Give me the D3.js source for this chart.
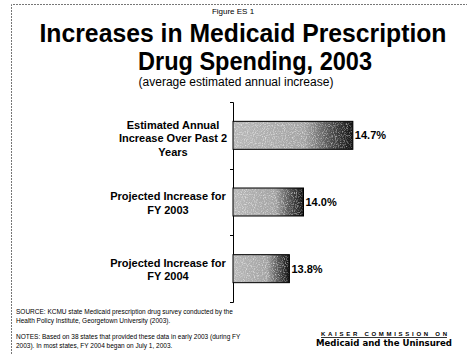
<!DOCTYPE html>
<html>
<head>
<meta charset="utf-8">
<script src="https://cdn.jsdelivr.net/npm/d3@7"></script>
<style>
  html, body { margin: 0; padding: 0; background: #fff; }
  svg { display: block; }
  text { font-family: "Liberation Sans", Arial, Helvetica, sans-serif; fill: #000; }
</style>
</head>
<body>
<svg id="chart" width="467" height="354"></svg>
<script>
// ---- data ----
const categories = [
  "Estimated Annual Increase Over Past 2 Years",
  "Projected Increase for FY 2003",
  "Projected Increase for FY 2004"
];
const categoryLines = [
  ["Estimated Annual", "Increase Over Past 2", "Years"],
  ["Projected Increase for", "FY 2003"],
  ["Projected Increase for", "FY 2004"]
];
const values = [14.7, 14.0, 13.8];
const valueLabels = ["14.7%", "14.0%", "13.8%"];
const axisMin = 13;
const axisMax = 16;

const figureLabel = "Figure ES 1";
const titleLines = ["Increases in Medicaid Prescription", "Drug Spending, 2003"];
const subtitle = "(average estimated annual increase)";
const sourceLines = [
  "SOURCE: KCMU state Medicaid prescription drug survey conducted by the",
  "Health Policy Institute, Georgetown University (2003)."
];
const noteLines = [
  "NOTES: Based on 38 states that provided these data in early 2003 (during FY",
  "2003).  In most states, FY 2004 began on July 1, 2003."
];
const logoLines = ["KAISER COMMISSION ON", "Medicaid and the Uninsured"];

// ---- drawing ----
const svg = d3.select("#chart");
const W = 467, H = 354;

svg.append("rect").attr("width", W).attr("height", H).attr("fill", "#fff");

// frame
svg.append("path")
  .attr("d", "M11.5,354 L11.5,4.5 L467,4.5")
  .attr("fill", "none").attr("stroke", "#777").attr("stroke-width", 1)
  .attr("stroke-dasharray", "2,1");

// defs: gradient + noise
const defs = svg.append("defs");
const grad = defs.append("linearGradient").attr("id", "barGrad")
  .attr("x1", "0%").attr("x2", "100%").attr("y1", "0%").attr("y2", "0%");
grad.append("stop").attr("offset", "0%").attr("stop-color", "#b8b8b8");
grad.append("stop").attr("offset", "60%").attr("stop-color", "#a4a4a4");
grad.append("stop").attr("offset", "80%").attr("stop-color", "#555");
grad.append("stop").attr("offset", "100%").attr("stop-color", "#111");

const filt = defs.append("filter").attr("id", "noise")
  .attr("x", "0").attr("y", "0").attr("width", "100%").attr("height", "100%");
filt.append("feTurbulence").attr("type", "fractalNoise")
  .attr("baseFrequency", "0.9").attr("numOctaves", 2).attr("seed", 3).attr("result", "t");
filt.append("feColorMatrix").attr("in", "t").attr("type", "matrix")
  .attr("values", "0 0 0 0 1  0 0 0 0 1  0 0 0 0 1  3 0 0 0 -1.4").attr("result", "w");
filt.append("feComposite").attr("in", "w").attr("in2", "SourceGraphic").attr("operator", "in");

// scales
const x = d3.scaleLinear().domain([axisMin, axisMax]).range([233, 444.5]);
const y = d3.scaleBand().domain(categories).range([102, 302])
  .paddingInner(0.58).paddingOuter(0.29);

// title block
svg.append("text").attr("x", 233).attr("y", 14).attr("text-anchor", "middle")
  .attr("font-size", 8).text(figureLabel);

svg.append("text").attr("x", 243).attr("y", 42).attr("text-anchor", "middle")
  .attr("font-size", 25).attr("font-weight", "bold")
  .attr("textLength", 407).attr("lengthAdjust", "spacingAndGlyphs")
  .text(titleLines[0]);
svg.append("text").attr("x", 255).attr("y", 70).attr("text-anchor", "middle")
  .attr("font-size", 25).attr("font-weight", "bold")
  .attr("textLength", 234).attr("lengthAdjust", "spacingAndGlyphs")
  .text(titleLines[1]);
svg.append("text").attr("x", 236).attr("y", 86).attr("text-anchor", "middle")
  .attr("font-size", 12).text(subtitle);

// axis (line + ends) and band-boundary ticks
const axisG = svg.append("g").attr("transform", "translate(233,0)");
axisG.call(d3.axisLeft(y).tickValues([]).tickSizeOuter(3));
axisG.select(".domain").attr("stroke", "#000").attr("stroke-width", 1);
const boundaries = categories.slice(1).map(c => y(c) - (y.step() - y.bandwidth()) / 2);
axisG.selectAll(".btick").data(boundaries).enter().append("line")
  .attr("class", "btick")
  .attr("x1", -3).attr("x2", 0)
  .attr("y1", d => Math.round(d) + 0.5).attr("y2", d => Math.round(d) + 0.5)
  .attr("stroke", "#000");

// bars
const bars = svg.append("g");
categories.forEach((c, i) => {
  const bx = x(axisMin), bw = x(values[i]) - x(axisMin);
  bars.append("rect").attr("x", bx).attr("y", y(c)).attr("width", bw).attr("height", y.bandwidth())
    .attr("fill", "url(#barGrad)").attr("stroke", "#000").attr("stroke-width", 1);
  bars.append("rect").attr("x", bx + 1).attr("y", y(c) + 1).attr("width", bw - 2).attr("height", y.bandwidth() - 2)
    .attr("fill", "#fff").attr("opacity", 0.55).attr("filter", "url(#noise)");
  svg.append("text").attr("x", x(values[i]) + 2).attr("y", y(c) + y.bandwidth() / 2 + 4)
    .attr("font-size", 11).attr("font-weight", "bold").text(valueLabels[i]);
});

// category labels
categories.forEach((c, i) => {
  const lines = categoryLines[i];
  const cy = y(c) + y.bandwidth() / 2;
  const lh = 13.5;
  const y0 = cy - (lines.length - 1) * lh / 2 + 4 + (lines.length === 3 ? 3 : 1);
  const t = svg.append("text").attr("text-anchor", "middle")
    .attr("font-size", 11).attr("font-weight", "bold");
  lines.forEach((l, j) => {
    t.append("tspan").attr("x", lines.length === 3 ? 173 : 168).attr("y", y0 + j * lh).text(l);
  });
});

// footer
sourceLines.forEach((l, j) => {
  svg.append("text").attr("x", 16).attr("y", 314 + j * 8.5).attr("font-size", 6.5).text(l);
});
noteLines.forEach((l, j) => {
  svg.append("text").attr("x", 16).attr("y", 339 + j * 8.5).attr("font-size", 6.5).text(l);
});

// logo
svg.append("text").attr("x", 384).attr("y", 336).attr("text-anchor", "middle")
  .attr("font-size", 6).attr("font-weight", "bold")
  .attr("textLength", 126).attr("lengthAdjust", "spacing")
  .text(logoLines[0]);
svg.append("line").attr("x1", 321).attr("x2", 447).attr("y1", 337.5).attr("y2", 337.5)
  .attr("stroke", "#000").attr("stroke-width", 0.8);
svg.append("text").attr("x", 384).attr("y", 346).attr("text-anchor", "middle")
  .attr("font-size", 9.5).attr("font-weight", 900)
  .attr("textLength", 136).attr("lengthAdjust", "spacingAndGlyphs")
  .style("font-family", "'DejaVu Sans', sans-serif")
  .text(logoLines[1]);
</script>
</body>
</html>
